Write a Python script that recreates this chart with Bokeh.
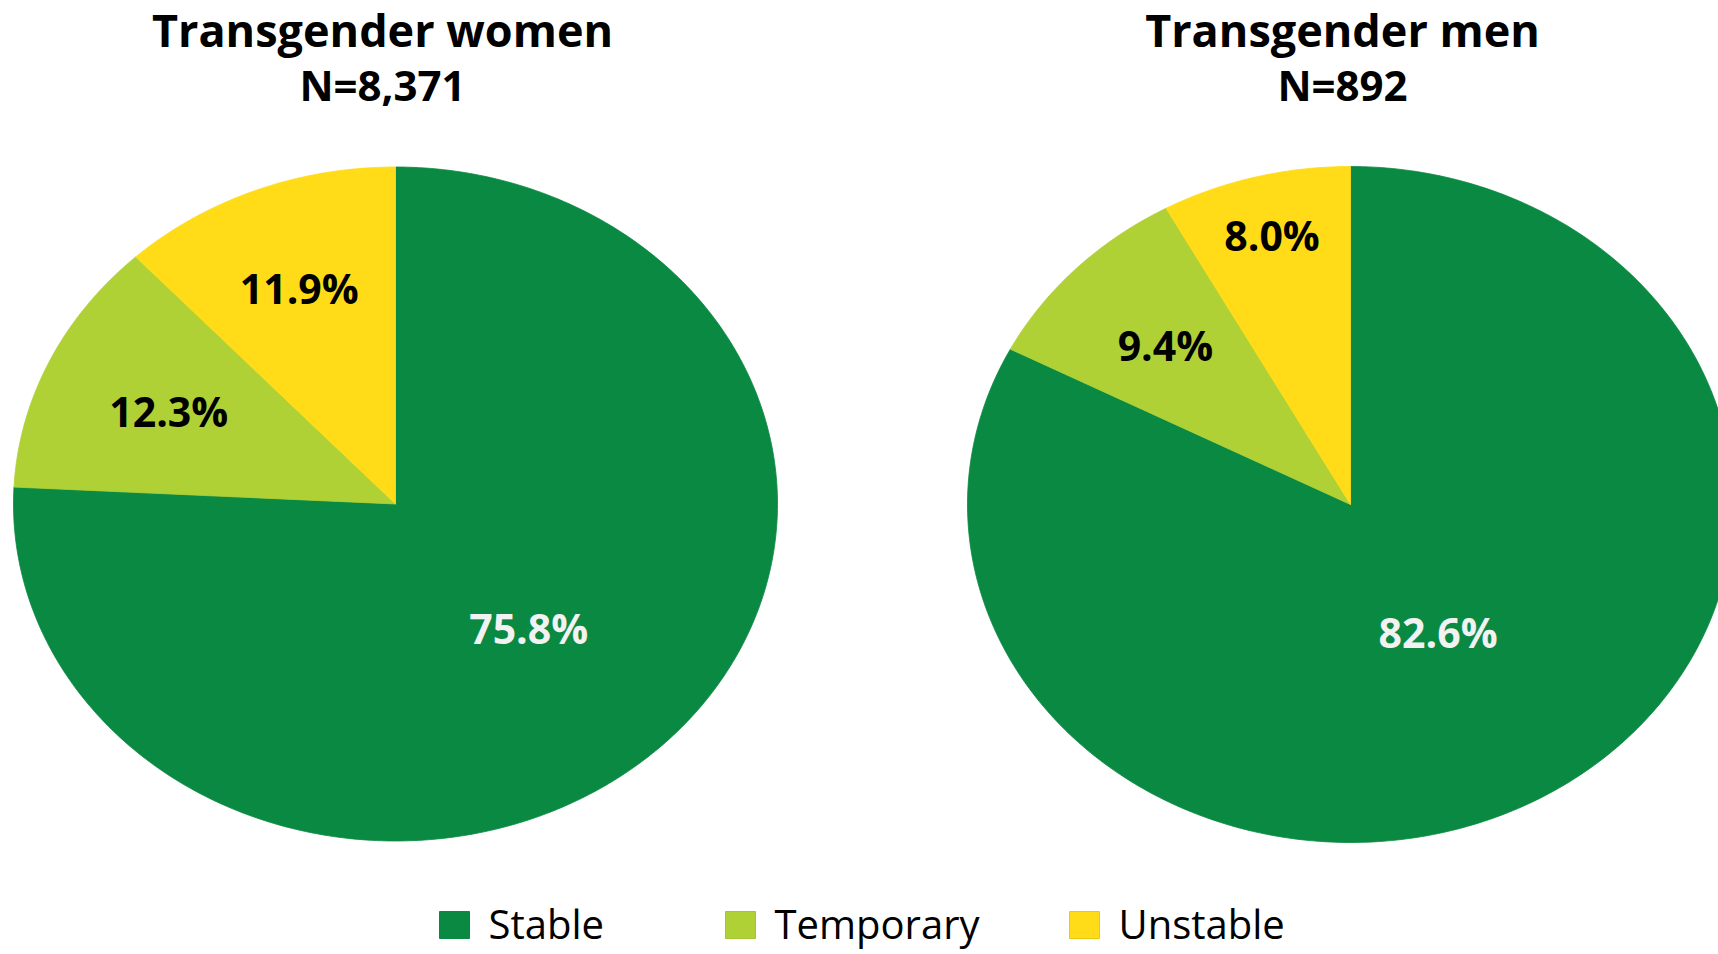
import numpy as np
from bokeh.plotting import figure
from bokeh.models import Range1d, ColumnDataSource
from bokeh.core.properties import value
from bokeh.embed import file_html
from bokeh.resources import INLINE

# ---------------- data ----------------
categories = ["Stable", "Temporary", "Unstable"]
women_pct = [75.8, 12.3, 11.9]
men_pct = [82.6, 9.4, 8.0]
panel_titles = ["Transgender women", "Transgender men"]
panel_n = ["N=8,371", "N=892"]

# ---------------- style / layout ----------------
colors = ["#0A8943", "#AFD136", "#FFDC17"]
edge_colors = ["#0A8943", "#A3C531", "#E8C810"]
label_colors = ["#F2F2F2", "#000000", "#000000"]
FONT = value("Open Sans")

W, H = 1718, 954
TXT_ADJ = 2.5  # anchor-to-cap-centre correction (px)


def px(xr):
    return xr


def py(yr):
    return H - yr


pies = [
    dict(vals=women_pct, cx=px(395), cy=py(503.5), rx=382, ry=337,
         label_r=[0.506, 0.655, 0.69], title_x=px(382)),
    dict(vals=men_pct, cx=px(1350), cy=py(504), rx=383, ry=338,
         label_r=[0.44, 0.675, 0.824], title_x=px(1342)),
]

p = figure(width=W, height=H, x_range=Range1d(0, W), y_range=Range1d(0, H),
           output_backend="svg", toolbar_location=None, min_border=0,
           background_fill_color="white", border_fill_color="white")
p.axis.visible = False
p.grid.visible = False
p.outline_line_color = None

# slices: one renderer per category, across both pies
for ci, cat in enumerate(categories):
    xs, ys = [], []
    for pie in pies:
        vals = np.array(pie["vals"], dtype=float)
        frac = vals / vals.sum()
        start = frac[:ci].sum() * 2 * np.pi
        end = frac[:ci + 1].sum() * 2 * np.pi
        n = max(4, int(np.ceil((end - start) / (2 * np.pi) * 400)))
        th = np.linspace(start, end, n)
        x = pie["cx"] + pie["rx"] * np.sin(th)
        y = pie["cy"] + pie["ry"] * np.cos(th)
        xs.append([pie["cx"]] + list(x))
        ys.append([pie["cy"]] + list(y))
    p.patches(xs=xs, ys=ys, fill_color=colors[ci], line_color=colors[ci],
              line_width=0.8)

# slice labels
LABEL_PX = 41
for pie in pies:
    vals = np.array(pie["vals"], dtype=float)
    frac = vals / vals.sum()
    lx, ly, lt, lc = [], [], [], []
    for ci in range(len(categories)):
        mid = (frac[:ci].sum() + frac[ci] / 2) * 2 * np.pi
        r = pie["label_r"][ci]
        lx.append(pie["cx"] + r * pie["rx"] * np.sin(mid))
        ly.append(pie["cy"] + r * pie["ry"] * np.cos(mid))
        lt.append(f"{vals[ci]:.1f}%")
        lc.append(label_colors[ci])
    src = ColumnDataSource(dict(x=lx, y=ly, text=lt, color=lc))
    p.text(x="x", y="y", text="text", text_color="color", source=src,
           text_font=FONT, text_font_style="bold",
           text_font_size=f"{LABEL_PX}px", text_align="center",
           text_baseline="alphabetic")

# panel titles
tsrc = ColumnDataSource(dict(x=[pie["title_x"] for pie in pies],
                             y=[py(31) + TXT_ADJ] * 2, text=panel_titles))
p.text(x="x", y="y", text="text", source=tsrc, text_font=FONT,
       text_font_style="bold", text_font_size="45px", text_align="center",
       text_baseline="alphabetic", text_color="black")
nsrc = ColumnDataSource(dict(x=[pie["title_x"] for pie in pies],
                             y=[py(86) + TXT_ADJ] * 2, text=panel_n))
p.text(x="x", y="y", text="text", source=nsrc, text_font=FONT,
       text_font_style="bold", text_font_size="42px", text_align="center",
       text_baseline="alphabetic", text_color="black")

# legend (drawn)
LEG_X = [439, 725, 1069]
sq_w, sq_h = 30, 27
lsrc = ColumnDataSource(dict(
    x=[px(v) + sq_w / 2 for v in LEG_X], y=[py(911) - sq_h / 2] * 3,
    fill=colors, line=edge_colors))
p.rect(x="x", y="y", width=sq_w, height=sq_h, fill_color="fill",
       line_color="line", line_width=1, source=lsrc)
ltsrc = ColumnDataSource(dict(x=[px(v) + 49 for v in LEG_X],
                              y=[py(925) + TXT_ADJ] * 3, text=categories))
p.text(x="x", y="y", text="text", source=ltsrc, text_font=FONT,
       text_font_size="40px", text_align="left", text_baseline="alphabetic",
       text_color="black")

open("out.html", "w").write(file_html(p, INLINE))
